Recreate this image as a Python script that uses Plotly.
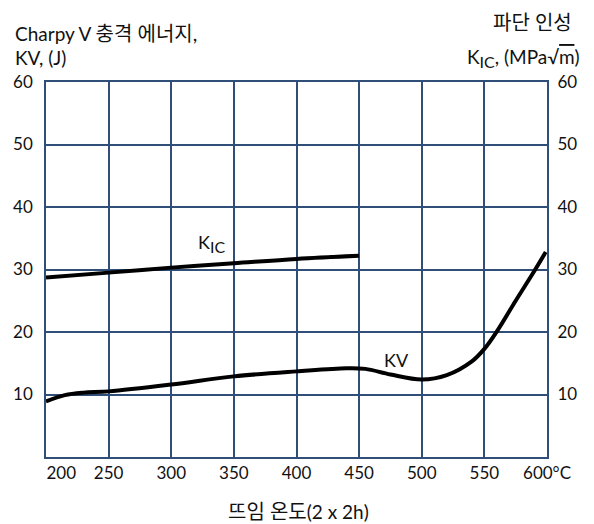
import plotly.graph_objects as go

# Tempering temperature (°C) and measured properties
kic_temp = [200, 250, 300, 350, 400, 450]
kic_vals = [28.7, 29.5, 30.3, 31.0, 31.7, 32.2]

kv_temp = [200, 215, 230, 250, 300, 350, 400, 440, 455, 475, 500, 520, 540, 550, 560, 575, 590, 599]
kv_vals = [8.9, 9.9, 10.3, 10.5, 11.6, 12.9, 13.7, 14.2, 14.1, 13.2, 12.4, 13.1, 15.3, 17.3, 20.1, 25.0, 29.8, 32.8]

x_ticks = [200, 250, 300, 350, 400, 450, 500, 550, 600]
x_labels = ["\u00a0\u00a0\u00a0\u00a0\u00a0\u00a0\u00a0200", "250", "300", "350", "400", "450", "500", "550", "600°C"]
y_ticks = [10, 20, 30, 40, 50, 60]

FONT = "Lato, 'Noto Sans CJK KR', sans-serif"
GRID = "#2f4f78"
TXT = "#111111"


def ko(s):
    """Korean run drawn slightly larger than the Latin text around it."""
    return f"<span style='font-size:20px'>{s}</span>"


def sub_ic(size):
    return f"K<sub><span style='font-size:{size}px'>IC</span></sub>"


fig = go.Figure()
fig.add_trace(go.Scatter(x=kic_temp, y=kic_vals, mode="lines",
                         line=dict(color="black", width=4, shape="spline"),
                         showlegend=False, hoverinfo="skip"))
fig.add_trace(go.Scatter(x=kv_temp, y=kv_vals, mode="lines",
                         line=dict(color="black", width=4, shape="spline", smoothing=1.0),
                         showlegend=False, hoverinfo="skip"))

fig.update_layout(
    width=594, height=524,
    margin=dict(l=46, r=47, t=82, b=67),
    paper_bgcolor="white", plot_bgcolor="white",
    font=dict(family=FONT, size=17, color=TXT),
    xaxis=dict(range=[200, 600], tickvals=x_ticks, ticktext=x_labels,
               showgrid=True, gridcolor=GRID, gridwidth=1.5,
               showline=True, linecolor=GRID, linewidth=1.5, mirror=True,
               zeroline=False, ticks="", ticklen=0, tickfont=dict(size=17)),
    yaxis=dict(range=[0, 60], tickvals=y_ticks,
               showgrid=True, gridcolor=GRID, gridwidth=1.5,
               showline=True, linecolor=GRID, linewidth=1.5, mirror=True,
               zeroline=False, ticks="outside", ticklen=8, tickcolor="rgba(0,0,0,0)",
               tickfont=dict(size=17)),
    yaxis2=dict(range=[0, 60], tickvals=y_ticks, overlaying="y", side="right",
                showgrid=False, zeroline=False, showline=False,
                ticks="outside", ticklen=6, tickcolor="rgba(0,0,0,0)",
                tickfont=dict(size=17)),
)

# invisible trace so the right-hand axis is drawn
fig.add_trace(go.Scatter(x=[None], y=[None], yaxis="y2", showlegend=False, hoverinfo="skip"))

annotations = [
    dict(text=sub_ic(16), x=332, y=34.2, xref="x", yref="y", showarrow=False,
         font=dict(size=18)),
    dict(text="KV", x=480, y=15.6, xref="x", yref="y", showarrow=False,
         font=dict(size=18)),
    dict(text="Charpy V " + ko("충격 에너지,"), x=13, y=33, xref="paper", yref="paper",
         xanchor="left", yanchor="middle", showarrow=False, font=dict(size=19)),
    dict(text="KV, (J)", x=13, y=58, xref="paper", yref="paper",
         xanchor="left", yanchor="middle", showarrow=False, font=dict(size=19)),
    dict(text=ko("파단 인성"), x=574, y=22, xref="paper", yref="paper",
         xanchor="right", yanchor="middle", showarrow=False, font=dict(size=19)),
    dict(text=sub_ic(16) + ", (MPa√<span style='text-decoration:overline'>m</span>)",
         x=581, y=58, xref="paper", yref="paper",
         xanchor="right", yanchor="middle", showarrow=False, font=dict(size=19)),
    dict(text=ko("뜨임 온도") + "(2 x 2h)", x=298, y=511, xref="paper", yref="paper",
         xanchor="center", yanchor="middle", showarrow=False, font=dict(size=19)),
]

# pixel placement for paper-referenced labels
W, H = 594, 524
L, R, T, B = 46, 47, 82, 67
pw, ph = W - L - R, H - T - B
for a in annotations:
    if a["xref"] == "paper":
        a["x"] = (a["x"] - L) / pw
        a["y"] = (H - B - a["y"]) / ph
fig.update_layout(annotations=annotations)

fig.write_html("out.html")
